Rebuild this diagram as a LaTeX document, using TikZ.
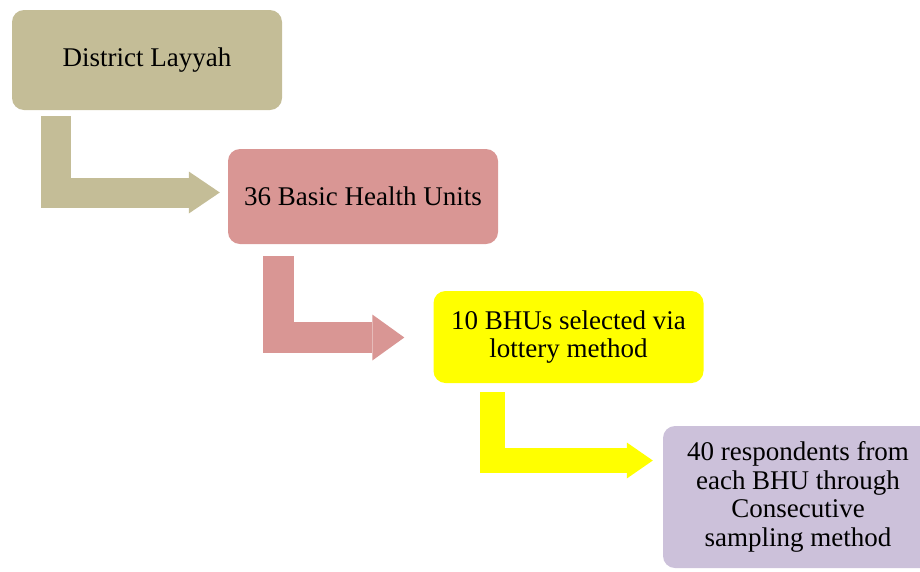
\documentclass[tikz,border=0pt]{standalone}
\usepackage{fontspec}
\setmainfont{Liberation Serif}
\usepackage{xcolor}
\usetikzlibrary{arrows.meta,calc}

\definecolor{tan}{HTML}{C4BD97}
\definecolor{rose}{HTML}{D99694}
\definecolor{lemon}{HTML}{FFFF00}
\definecolor{lilac}{HTML}{CCC1DA}

\begin{document}
\begin{tikzpicture}[x=1pt,y=-1pt,
  box/.style={rounded corners=12pt,minimum width=270pt,inner sep=0pt,
    align=center,font=\fontsize{27}{28.5}\selectfont},
  elbow/.style={line join=miter,line cap=butt}
]
\clip (0,0) rectangle (920,571);
\node[box,fill=tan,minimum height=100pt] (dist) at (147,60) {District Layyah};
\node[box,fill=rose,minimum height=95pt] (bhu) at (363,196.5) {36 Basic Health Units};
\node[box,fill=lemon,minimum height=92pt] (sel) at (568.5,337) {10 BHUs selected via\\lottery method};
\node[box,fill=lilac,minimum height=142pt] (resp) at (798,497) {40 respondents from\\each BHU through\\Consecutive\\sampling method};
\draw[elbow,tan,line width=30pt,-{Triangle[length=31pt,width=42pt,line width=0pt]}]
  ($(dist.south west)+(44,6)$) |- ($(bhu.west)+(-8,-4)$);
\draw[elbow,rose,line width=31pt,-{Triangle[length=32pt,width=46pt,line width=0pt]}]
  ($(bhu.south west)+(51,12)$) |- ($(sel.west)+(-29,0.5)$);
\draw[elbow,lemon,line width=25pt,-{Triangle[length=26pt,width=36pt,line width=0pt]}]
  ($(sel.south west)+(59.5,9)$) |- ($(resp.west)+(-10,-36.5)$);
\end{tikzpicture}
\end{document}
